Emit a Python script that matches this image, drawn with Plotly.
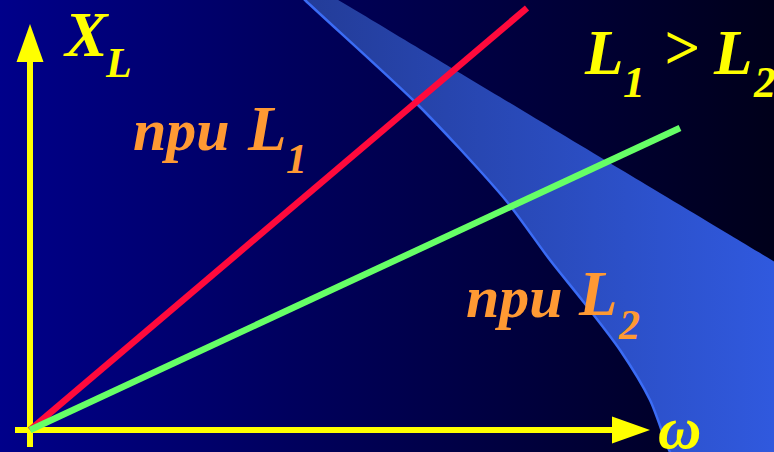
import plotly.graph_objects as go

# ---------------- data (chart units: origin at the axes' crossing) ----------------
X_RANGE = [-30, 744]
Y_RANGE = [-22, 430]

# shaded band: curved left edge, straight right edge
band_left_x = [265, 275, 383, 431, 478, 520, 552, 590, 620, 640, 646]
band_left_y = [440, 430, 330, 280, 227, 170, 130, 80, 30, -22, -30]
band_corner_x = [660, 840]
band_corner_y = [-70, -70]
band_right_x = [840, 780, 700, 600, 500, 400, 320, 291]
band_right_y = [111, 147, 195, 255, 315, 375, 423, 440]

# reactance lines X_L = w*L
line_L1_x = [0, 497]
line_L1_y = [0, 422]
line_L2_x = [0, 650]
line_L2_y = [0, 302]

# axes
v_axis_y = [-17, 368]
v_head_tip = 406
h_axis_x = [-15, 582]
h_head_tip = 620
head_half = 13.5

# texts: (text, x, y, size, color)
labels = [
    ("X", 56, 396, 64, "#ffff00"),
    ("L", 88, 367, 42, "#ffff00"),
    ("L", 573, 377, 63, "#ffff00"),
    ("1", 604, 348, 44, "#ffff00"),
    (">", 651, 382, 63, "#ffff00"),
    ("L", 702, 377, 63, "#ffff00"),
    ("2", 734, 348, 44, "#ffff00"),
    ("npu", 151, 300, 60, "#ff9933"),
    ("L", 236, 301, 63, "#ff9933"),
    ("1", 266, 271, 42, "#ff9933"),
    ("npu", 484, 133, 60, "#ff9933"),
    ("L", 567, 136, 63, "#ff9933"),
    ("2", 599, 105, 42, "#ff9933"),
    ("ω", 649, 2, 60, "#ffff00"),
]

fig = go.Figure()

# background gradient
fig.add_trace(go.Scatter(
    x=[X_RANGE[0], X_RANGE[1], X_RANGE[1], X_RANGE[0]],
    y=[Y_RANGE[0], Y_RANGE[0], Y_RANGE[1], Y_RANGE[1]],
    fill="toself", mode="lines", line=dict(width=0),
    fillgradient=dict(type="horizontal",
                      colorscale=[[0, "#00008a"], [0.45, "#000055"], [1, "#00001a"]]),
    hoverinfo="skip", showlegend=False))

# band
fig.add_trace(go.Scatter(
    x=band_left_x + band_corner_x + band_right_x,
    y=band_left_y + band_corner_y + band_right_y,
    fill="toself", mode="lines", line=dict(width=0, shape="spline", smoothing=0.8),
    fillgradient=dict(type="horizontal", start=270, stop=744,
                      colorscale=[[0, "#233c98"], [1, "#3059de"]]),
    hoverinfo="skip", showlegend=False))
fig.add_trace(go.Scatter(
    x=band_left_x, y=band_left_y, mode="lines",
    line=dict(color="#3b6cf5", width=2.5, shape="spline", smoothing=0.8),
    hoverinfo="skip", showlegend=False))

# yellow axes
yellow = "#ffff00"
fig.add_trace(go.Scatter(x=[0, 0], y=v_axis_y, mode="lines",
                         line=dict(color=yellow, width=6), hoverinfo="skip", showlegend=False))
fig.add_trace(go.Scatter(x=[-head_half, head_half, 0], y=[v_axis_y[1], v_axis_y[1], v_head_tip],
                         fill="toself", fillcolor=yellow, mode="lines", line=dict(width=0, color=yellow),
                         hoverinfo="skip", showlegend=False))
fig.add_trace(go.Scatter(x=h_axis_x, y=[0, 0], mode="lines",
                         line=dict(color=yellow, width=6), hoverinfo="skip", showlegend=False))
fig.add_trace(go.Scatter(x=[h_axis_x[1], h_axis_x[1], h_head_tip], y=[-head_half, head_half, 0],
                         fill="toself", fillcolor=yellow, mode="lines", line=dict(width=0, color=yellow),
                         hoverinfo="skip", showlegend=False))

# reactance lines
fig.add_trace(go.Scatter(x=line_L1_x, y=line_L1_y, mode="lines",
                         line=dict(color="#ff0a3c", width=6.5), hoverinfo="skip", showlegend=False))
fig.add_trace(go.Scatter(x=line_L2_x, y=line_L2_y, mode="lines",
                         line=dict(color="#66ff66", width=6.5), hoverinfo="skip", showlegend=False))

for t, x, y, s, c in labels:
    fig.add_annotation(x=x, y=y, xref="x", yref="y", text="<b><i>%s</i></b>" % t,
                       showarrow=False, xanchor="center", yanchor="middle",
                       font=dict(family="Liberation Serif", size=s, color=c))

fig.update_layout(
    width=774, height=452,
    margin=dict(l=0, r=0, t=0, b=0),
    paper_bgcolor="#000040", plot_bgcolor="#000040",
    xaxis=dict(range=X_RANGE, visible=False, fixedrange=True),
    yaxis=dict(range=Y_RANGE, visible=False, fixedrange=True),
    showlegend=False,
)

fig.write_html("out.html", config={"displayModeBar": False},
               post_script="document.body.style.margin='0';document.body.style.overflow='hidden';")
